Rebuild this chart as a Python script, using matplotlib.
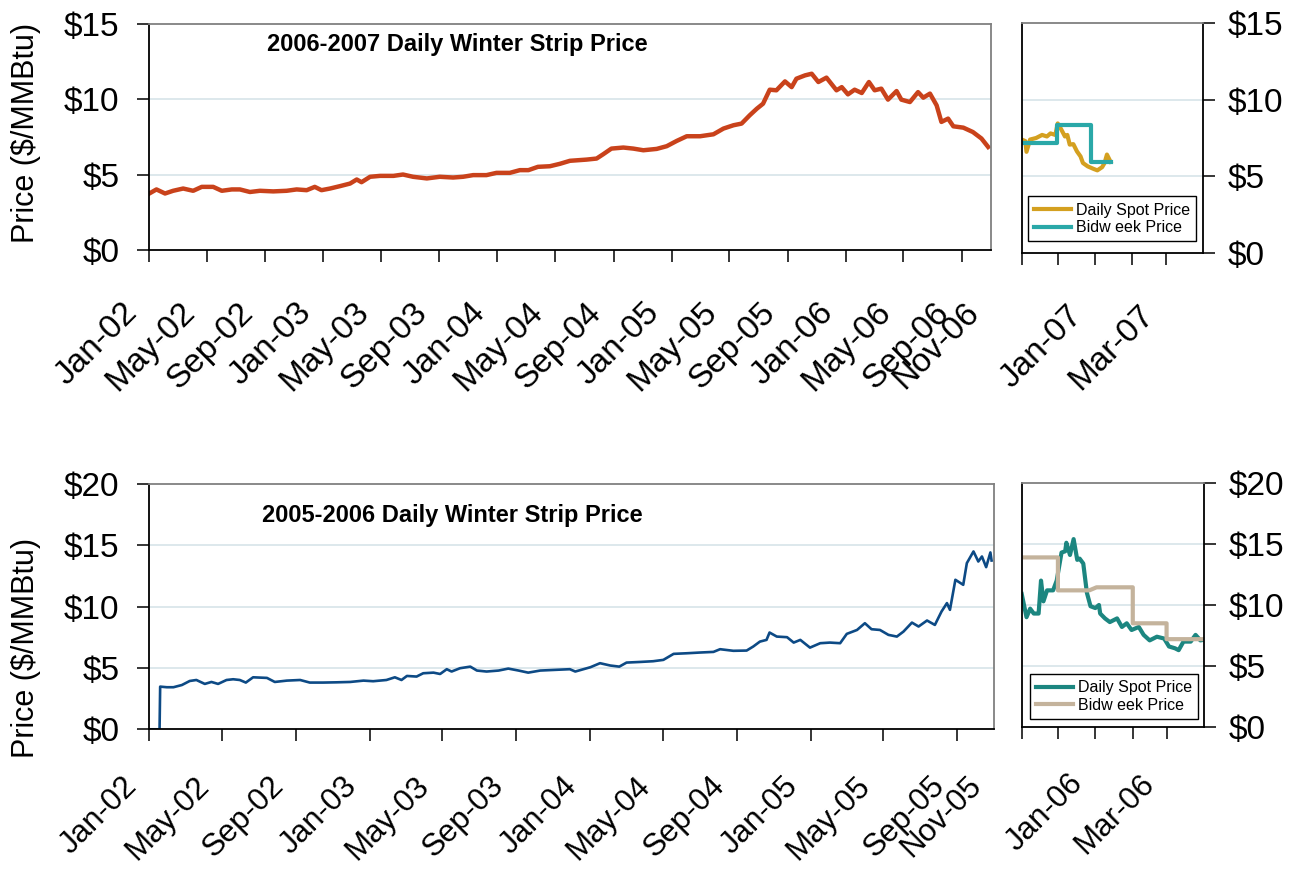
import numpy as np
import matplotlib
matplotlib.use('Agg')
import matplotlib.pyplot as plt
import matplotlib.dates as mdates
from matplotlib.transforms import ScaledTranslation

plt.rcParams['font.family'] = ['Liberation Sans', 'DejaVu Sans']

# ---- data (x = days after the start date) ----
STRIP07_START = '2002-01-01'
strip07_day = [0, 15, 33, 50, 71, 92, 110, 134, 152, 173, 190, 211, 232, 260, 288, 309,
               330, 347, 361, 379, 400, 421, 435, 445, 463, 484, 512, 532, 553, 582, 609,
               637, 658, 679, 707, 728, 756, 777, 795, 815, 840, 861, 882, 917, 938, 952,
               969, 994, 1015, 1036, 1064, 1085, 1106, 1127, 1155, 1183, 1204, 1225, 1242,
               1259, 1274, 1287, 1301, 1315, 1333, 1347, 1357, 1375, 1389, 1403, 1420, 1441,
               1452, 1465, 1479, 1494, 1509, 1521, 1535, 1549, 1567, 1577, 1595, 1612, 1623,
               1637, 1651, 1661, 1675, 1686, 1707, 1727, 1745, 1759]
strip07_val = [3.75, 4.02, 3.75, 3.93, 4.08, 3.93, 4.19, 4.19, 3.93, 4.02, 4.02, 3.85, 3.93,
               3.89, 3.93, 4.02, 3.97, 4.19, 3.97, 4.08, 4.24, 4.41, 4.68, 4.50, 4.86, 4.92,
               4.92, 5.01, 4.86, 4.75, 4.86, 4.81, 4.86, 4.97, 4.97, 5.12, 5.12, 5.30, 5.30,
               5.52, 5.56, 5.72, 5.92, 6.00, 6.07, 6.36, 6.73, 6.80, 6.73, 6.62, 6.71, 6.89,
               7.24, 7.55, 7.55, 7.68, 8.06, 8.28, 8.39, 8.94, 9.38, 9.71, 10.64, 10.60, 11.19,
               10.81, 11.37, 11.59, 11.70, 11.15, 11.44, 10.60, 10.81, 10.33, 10.64, 10.42,
               11.15, 10.60, 10.71, 9.98, 10.55, 9.98, 9.82, 10.48, 10.11, 10.38, 9.60, 8.50,
               8.72, 8.21, 8.12, 7.83, 7.40, 6.84]

STRIP06_START = '2002-01-01'
strip06_day = [0, 17, 18, 29, 40, 54, 67, 78, 92, 103, 114, 128, 139, 150, 160, 172, 195,
               208, 228, 250, 266, 288, 310, 333, 355, 371, 393, 407, 418, 427, 443, 454,
               471, 482, 493, 501, 515, 532, 543, 559, 579, 595, 612, 628, 648, 670, 697,
               706, 731, 747, 764, 779, 791, 813, 835, 852, 869, 891, 913, 935, 946, 968,
               990, 1001, 1012, 1023, 1028, 1040, 1057, 1068, 1079, 1095, 1112, 1128, 1145,
               1156, 1173, 1186, 1197, 1211, 1225, 1239, 1250, 1264, 1275, 1289, 1302, 1313,
               1322, 1327, 1336, 1349, 1355, 1366, 1374, 1380, 1387, 1394, 1396]
strip06_val = [0.0, 0.0, 3.48, 3.43, 3.43, 3.61, 3.94, 4.02, 3.70, 3.86, 3.70, 4.02, 4.08,
               4.02, 3.81, 4.24, 4.19, 3.86, 3.97, 4.02, 3.81, 3.81, 3.83, 3.86, 3.97, 3.92,
               4.02, 4.24, 4.02, 4.35, 4.30, 4.57, 4.62, 4.51, 4.90, 4.71, 4.98, 5.11, 4.79,
               4.71, 4.79, 4.95, 4.79, 4.62, 4.79, 4.84, 4.90, 4.71, 5.06, 5.39, 5.20, 5.11,
               5.44, 5.49, 5.55, 5.66, 6.15, 6.20, 6.26, 6.31, 6.53, 6.40, 6.42, 6.75, 7.15,
               7.29, 7.89, 7.56, 7.51, 7.07, 7.29, 6.66, 7.02, 7.07, 7.02, 7.78, 8.10, 8.65,
               8.16, 8.10, 7.70, 7.56, 7.97, 8.70, 8.38, 8.87, 8.51, 9.60, 10.29, 9.74, 12.19,
               11.78, 13.55, 14.50, 13.68, 14.09, 13.22, 14.42, 13.76]

WINTER07_START = '2006-11-01'
spot07_day = [0, 3, 4, 7, 12, 17, 21, 24, 28, 30, 33, 36, 38, 40, 43, 46, 49, 51, 55, 60,
              63, 67, 69, 71, 74]
spot07_val = [7.4, 7.3, 6.6, 7.4, 7.5, 7.7, 7.6, 7.8, 7.7, 8.45, 8.05, 7.6, 7.7, 7.07, 7.1,
              6.63, 6.3, 5.87, 5.65, 5.48, 5.39, 5.6, 5.87, 6.42, 5.95]
bid07_day = [0, 29, 29, 58, 58, 74]
bid07_val = [7.15, 7.15, 8.32, 8.32, 5.91, 5.91]

WINTER06_START = '2005-11-01'
spot06_day = [0, 4, 7, 10, 14, 16, 18, 21, 26, 29, 33, 36, 37, 40, 43, 46, 48, 51, 54, 57,
              61, 64, 65, 69, 73, 79, 83, 87, 91, 97, 101, 106, 112, 118, 122, 127, 130, 134,
              140, 144, 148, 151]
spot06_val = [10.9, 9.0, 9.7, 9.3, 9.3, 12.0, 10.3, 11.2, 11.2, 12.0, 14.3, 14.4, 15.1, 14.1,
              15.4, 13.7, 13.8, 13.4, 11.0, 9.9, 9.75, 10.0, 9.3, 8.9, 8.6, 8.9, 8.2, 8.5,
              7.95, 8.2, 7.55, 7.1, 7.4, 7.25, 6.6, 6.45, 6.3, 7.0, 7.0, 7.55, 7.1, 7.15]
bid06_day = [0, 30, 30, 56, 62, 92, 92, 120, 120, 151]
bid06_val = [13.9, 13.9, 11.2, 11.2, 11.45, 11.45, 8.5, 8.5, 7.2, 7.2]


def to_dates(start, days):
    return mdates.date2num(np.datetime64(start) + np.array(days).astype('timedelta64[D]'))


W, H = 1297, 872
fig = plt.figure(figsize=(W / 100, H / 100), dpi=100)


def px_axes(l, t, r, b):
    return fig.add_axes([l / W, 1 - b / H, (r - l) / W, (b - t) / H])


GRID = '#dae6ea'
FRAME = '#808080'
TICK_FS = 24


def setup(ax, ymax, ticks, labels, right=False, xpad=33, xfs=24):
    ax.set_ylim(0, ymax)
    yt = list(range(0, ymax + 1, 5))
    ax.set_yticks(yt)
    ax.set_yticklabels(['$%d' % v for v in yt])
    for v in yt[1:-1]:
        ax.axhline(v, color=GRID, lw=1.3, zorder=0)
    ax.set_xticks(ticks)
    ax.set_xticklabels(labels)
    for s in ax.spines.values():
        s.set_linewidth(1.3)
        s.set_color('black')
    ax.spines['top'].set_color(FRAME)
    if right:
        ax.yaxis.tick_right()
        ax.tick_params(axis='y', pad=9)
    else:
        ax.spines['right'].set_color(FRAME)
        ax.tick_params(axis='y', pad=13)
    ax.tick_params(axis='both', direction='out', length=8.6, width=1.1,
                   labelsize=TICK_FS)
    ax.tick_params(axis='x', pad=xpad, labelsize=xfs)
    off = ScaledTranslation(-17 / 100, 0, fig.dpi_scale_trans)
    for lab in ax.get_xticklabels():
        lab.set_rotation(45)
        lab.set_rotation_mode('anchor')
        lab.set_ha('right')
        lab.set_va('center')
        lab.set_transform(lab.get_transform() + off)
    # the end tick on the right spine carries a label but no mark
    ax.xaxis.get_major_ticks()[-1].tick1line.set_visible(False)


def month_ticks(start, end, step):
    return np.arange(np.datetime64(start, 'M'), np.datetime64(end, 'M') + 1, step)


# ---- top left: 2006-2007 strip ----
ax1 = px_axes(149.3, 24, 991, 250)
ax1.plot(to_dates(STRIP07_START, strip07_day), strip07_val, color='#C9421B', lw=3.2,
         solid_joinstyle='round')
m = list(month_ticks('2002-01', '2006-09', 4)) + [np.datetime64('2006-11')]
tk = mdates.date2num(np.array(m).astype('datetime64[D]'))
ax1.set_xlim(tk[0], tk[-1])
setup(ax1, 15, tk, [mdates.num2date(t).strftime('%b-%y') for t in tk])
fig.text(267 / W, 1 - 45 / H, '2006-2007 Daily Winter Strip Price', fontsize=17,
         fontweight='bold', va='center', ha='left')

# ---- top right: winter 2006-2007 ----
ax2 = px_axes(1021.7, 23, 1203, 253)
ax2.plot(to_dates(WINTER07_START, spot07_day), spot07_val, color='#D4A020', lw=3.0,
         label='Daily Spot Price')
ax2.plot(to_dates(WINTER07_START, bid07_day), bid07_val, color='#2AA8A8', lw=3.0,
         label='Bidw eek Price')
m = month_ticks('2006-11', '2007-04', 1)
tk = mdates.date2num(m.astype('datetime64[D]'))
ax2.set_xlim(tk[0], tk[-1])
setup(ax2, 15, tk, ['', '', 'Jan-07', '', 'Mar-07', ''], right=True)
leg = ax2.legend(loc='lower left', bbox_to_anchor=(0.035, 0.05), borderaxespad=0,
                 fontsize=11.5, handlelength=2.3, handletextpad=0.3, borderpad=0.4,
                 labelspacing=0.15, fancybox=False, framealpha=1, edgecolor='black')
leg.get_frame().set_linewidth(1.0)

# ---- bottom left: 2005-2006 strip ----
ax3 = px_axes(149.3, 484, 994, 729.3)
ax3.plot(to_dates(STRIP06_START, strip06_day), strip06_val, color='#0D4A85', lw=1.9)
m = list(month_ticks('2002-01', '2005-09', 4)) + [np.datetime64('2005-11')]
tk = mdates.date2num(np.array(m).astype('datetime64[D]'))
ax3.set_xlim(tk[0], tk[-1])
setup(ax3, 20, tk, [mdates.num2date(t).strftime('%b-%y') for t in tk], xpad=29, xfs=22.5)
fig.text(262 / W, 1 - 515 / H, '2005-2006 Daily Winter Strip Price', fontsize=17,
         fontweight='bold', va='center', ha='left')

# ---- bottom right: winter 2005-2006 ----
ax4 = px_axes(1021.7, 483, 1204, 727)
ax4.plot(to_dates(WINTER06_START, spot06_day), spot06_val, color='#1C8680', lw=3.0,
         label='Daily Spot Price')
ax4.plot(to_dates(WINTER06_START, bid06_day), bid06_val, color='#C4B39C', lw=3.0,
         label='Bidw eek Price')
m = month_ticks('2005-11', '2006-04', 1)
tk = mdates.date2num(m.astype('datetime64[D]'))
ax4.set_xlim(tk[0], tk[-1])
setup(ax4, 20, tk, ['', '', 'Jan-06', '', 'Mar-06', ''], right=True, xpad=29, xfs=22.5)
leg = ax4.legend(loc='lower left', bbox_to_anchor=(0.045, 0.032), borderaxespad=0,
                 fontsize=11.5, handlelength=2.3, handletextpad=0.3, borderpad=0.4,
                 labelspacing=0.15, fancybox=False, framealpha=1, edgecolor='black')
leg.get_frame().set_linewidth(1.0)

# y labels
fig.text(26 / W, 1 - 133 / H, 'Price ($/MMBtu)', rotation=90, fontsize=22,
         ha='center', va='center')
fig.text(26 / W, 1 - 648 / H, 'Price ($/MMBtu)', rotation=90, fontsize=22,
         ha='center', va='center')

fig.savefig('out.png', dpi=100)
